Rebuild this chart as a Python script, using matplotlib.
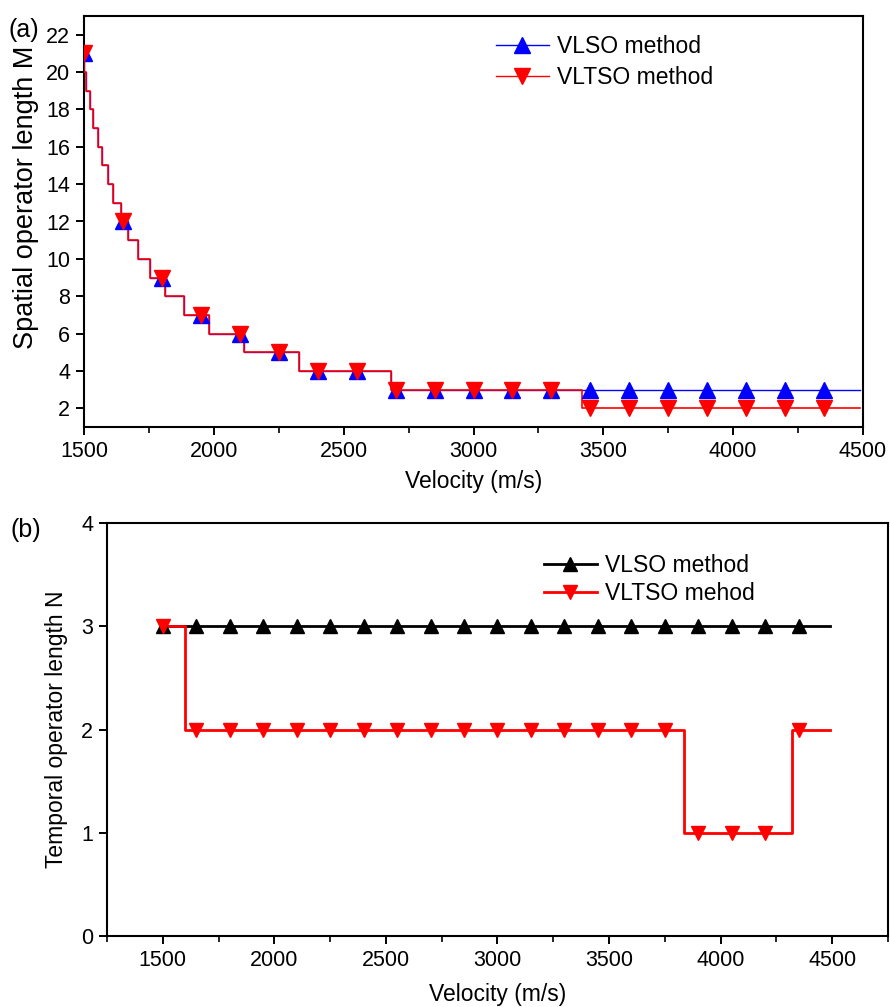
import matplotlib
matplotlib.use("Agg")
import matplotlib.pyplot as plt
from matplotlib.ticker import MultipleLocator

plt.rcParams['font.family'] = ['Liberation Sans', 'DejaVu Sans']

# ---- panel (a): spatial operator length M ----
# sampled velocities carrying markers
vel_marks = [1500, 1650, 1800, 1950, 2100, 2250, 2400, 2550, 2700, 2850,
             3000, 3150, 3300, 3450, 3600, 3750, 3900, 4050, 4200, 4350]
m_vlso = [21, 12, 9, 7, 6, 5, 4, 4, 3, 3, 3, 3, 3, 3, 3, 3, 3, 3, 3, 3]
m_vltso = [21, 12, 9, 7, 6, 5, 4, 4, 3, 3, 3, 3, 3, 2, 2, 2, 2, 2, 2, 2]

# step curves: velocity where each level begins, and the level
step_vel_a = [1500, 1501, 1508, 1523, 1535, 1554, 1569, 1592, 1612, 1642,
              1669, 1708, 1754, 1812, 1885, 1981, 2116, 2328, 2682, 3418, 4490]
step_m_vltso = [21, 20, 19, 18, 17, 16, 15, 14, 13, 12,
                11, 10, 9, 8, 7, 6, 5, 4, 3, 2, 2]
step_m_vlso = [21, 20, 19, 18, 17, 16, 15, 14, 13, 12,
               11, 10, 9, 8, 7, 6, 5, 4, 3, 3, 3]

# ---- panel (b): temporal operator length N ----
n_vlso = [3] * 20
n_vltso = [3, 2, 2, 2, 2, 2, 2, 2, 2, 2, 2, 2, 2, 2, 2, 2, 1, 1, 1, 2]
step_vel_b = [1500, 1600, 3834, 4319, 4490]
step_n_vltso = [3, 2, 1, 2, 2]
line_vel_b = [1500, 4490]
line_n_vlso = [3, 3]

fig = plt.figure(figsize=(8.9, 10.07), dpi=100)

fs_tick = 15.5
fs_label = 16.5
fs_leg = 16.5

def style_axes(ax):
    for sp in ax.spines.values():
        sp.set_linewidth(1.5)
    ax.tick_params(which='major', direction='out', length=6, width=1.4,
                   labelsize=fs_tick, pad=4)
    ax.tick_params(which='minor', direction='out', length=4, width=1.2)

# panel (a)
ax1 = fig.add_axes([84 / 890, 1 - 427 / 1007, (863 - 84) / 890, (427 - 16) / 1007])
ax1.step(step_vel_a, step_m_vlso, where='post', color='#0000ff', lw=1.0, zorder=2)
ax1.step(step_vel_a, step_m_vltso, where='post', color='#ff0000', lw=1.2, zorder=3)
ax1.plot(vel_marks, m_vlso, ls='none', marker='^', ms=11.5, color='#0000ff', zorder=4)
ax1.plot(vel_marks, m_vltso, ls='none', marker='v', ms=11.5, color='#ff0000', zorder=5)
h1 = ax1.plot([], [], color='#0000ff', lw=1.0, marker='^', ms=11.5, label='VLSO method')[0]
h2 = ax1.plot([], [], color='#ff0000', lw=1.0, marker='v', ms=11.5, label='VLTSO method')[0]
ax1.set_xlim(1500, 4500)
ax1.set_ylim(1, 23)
ax1.set_yticks(range(2, 23, 2))
ax1.set_xticks(range(1500, 4501, 500))
ax1.xaxis.set_minor_locator(MultipleLocator(250))
ax1.set_xlabel('Velocity (m/s)', fontsize=fs_label, labelpad=6)
ax1.set_ylabel('Spatial operator length M', fontsize=19.5)
ax1.yaxis.set_label_coords(-0.058, 0.56)
style_axes(ax1)
ax1.legend(handles=[h1, h2], loc='upper left', frameon=False, fontsize=fs_leg,
           bbox_to_anchor=(496 / 890, 1 - 35 / 1007), bbox_transform=fig.transFigure,
           borderpad=0, borderaxespad=0, handlelength=2.3, handletextpad=0.35,
           labelspacing=0.33)
fig.text(8 / 890, 1 - 30 / 1007, '(a)', fontsize=18, va='center', ha='left')

# panel (b)
ax2 = fig.add_axes([107 / 890, 1 - 936 / 1007, (888 - 107) / 890, (936 - 523) / 1007])
ax2.plot(line_vel_b, line_n_vlso, color='black', lw=2.0, zorder=2)
ax2.step(step_vel_b, step_n_vltso, where='post', color='#ff0000', lw=2.0, zorder=3)
ax2.plot(vel_marks, n_vlso, ls='none', marker='^', ms=10.5, color='black', zorder=4)
ax2.plot(vel_marks, n_vltso, ls='none', marker='v', ms=10.5, color='#ff0000', zorder=5)
g1 = ax2.plot([], [], color='black', lw=2.0, marker='^', ms=10.5, label='VLSO method')[0]
g2 = ax2.plot([], [], color='#ff0000', lw=2.0, marker='v', ms=10.5, label='VLTSO mehod')[0]
ax2.set_xlim(1250, 4750)
ax2.set_ylim(0, 4)
ax2.set_yticks(range(0, 5))
ax2.set_xticks(range(1500, 4501, 500))
ax2.xaxis.set_minor_locator(MultipleLocator(250))
ax2.set_xlabel('Velocity (m/s)', fontsize=fs_label, labelpad=9)
ax2.set_ylabel('Temporal operator length N', fontsize=fs_label, labelpad=9)
style_axes(ax2)
ax2.legend(handles=[g1, g2], loc='upper left', frameon=False, fontsize=fs_leg,
           bbox_to_anchor=(544 / 890, 1 - 554 / 1007), bbox_transform=fig.transFigure,
           borderpad=0, borderaxespad=0, handlelength=2.3, handletextpad=0.35,
           labelspacing=0.2)
fig.text(10 / 890, 1 - 530 / 1007, '(b)', fontsize=18, va='center', ha='left')

fig.savefig('out.png', dpi=100)
